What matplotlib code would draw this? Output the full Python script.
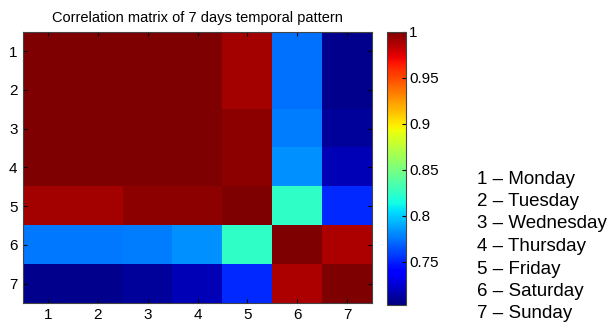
import numpy as np
import matplotlib
matplotlib.use('Agg')
import matplotlib.pyplot as plt

plt.rcParams['font.family'] = ['Liberation Sans', 'DejaVu Sans']

days = ['1', '2', '3', '4', '5', '6', '7']
day_names = ['Monday', 'Tuesday', 'Wednesday', 'Thursday', 'Friday', 'Saturday', 'Sunday']

# correlation values (jet scale)
corr = [
    [1.000, 0.999, 0.999, 0.999, 0.990, 0.773, 0.707],
    [0.999, 1.000, 0.999, 0.999, 0.990, 0.773, 0.707],
    [0.999, 0.999, 1.000, 0.999, 0.996, 0.777, 0.710],
    [0.999, 0.999, 0.999, 1.000, 0.996, 0.782, 0.717],
    [0.990, 0.990, 0.996, 0.996, 1.000, 0.824, 0.752],
    [0.775, 0.775, 0.777, 0.782, 0.824, 1.000, 0.988],
    [0.707, 0.707, 0.711, 0.717, 0.752, 0.988, 1.000],
]
cbar_ticks = [0.75, 0.8, 0.85, 0.9, 0.95, 1]
cbar_labels = ['0.75', '0.8', '0.85', '0.9', '0.95', '1']

fig = plt.figure(figsize=(6.08, 3.25), dpi=100)
ax = fig.add_axes([0.038, 0.068, 0.574, 0.834])
cax = fig.add_axes([0.637, 0.062, 0.031, 0.840])

im = ax.imshow(np.array(corr), cmap='jet', vmin=0.703, vmax=1.0,
               aspect='auto', interpolation='nearest')
ax.set_xticks(range(7))
ax.set_xticklabels(days)
ax.set_yticks(range(7))
ax.set_yticklabels(days)
ax.tick_params(direction='in', length=3, labelsize=11, top=True, right=True,
               width=0.8, pad=4)
for s in ax.spines.values():
    s.set_color('#444444')
ax.set_title('Correlation matrix of 7 days temporal pattern', fontsize=10.5, pad=7)

cb = fig.colorbar(im, cax=cax)
cb.set_ticks(cbar_ticks)
cb.set_ticklabels(cbar_labels)
cb.ax.tick_params(direction='in', length=3, labelsize=11, width=0.8, pad=2)
cb.outline.set_edgecolor('#444444')

for i, name in enumerate(day_names):
    fig.text(0.784, 1 - (179 + i * 22.5) / 325, f'{days[i]} \u2013 {name}',
             fontsize=13.5, va='center', ha='left')

fig.savefig('out.png', dpi=100)
